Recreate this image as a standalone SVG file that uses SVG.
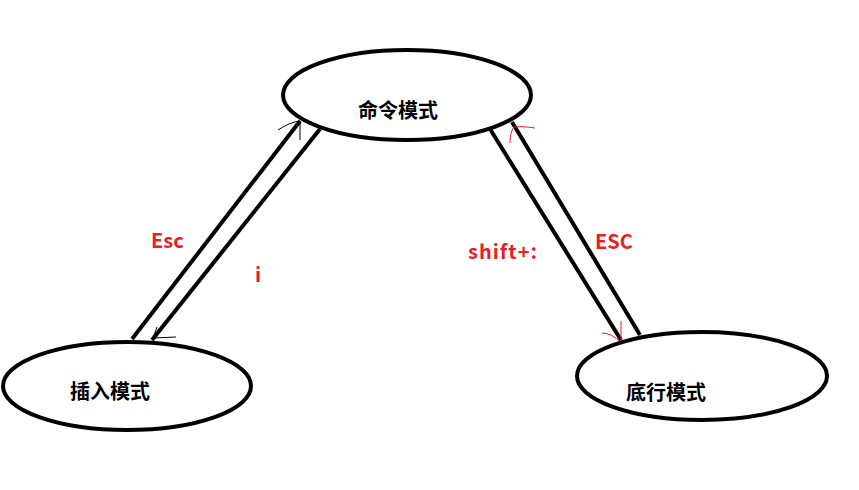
<svg xmlns="http://www.w3.org/2000/svg" width="859" height="490" viewBox="0 0 859 490">
<style>
.node ellipse{fill:#fff;stroke:#000;stroke-width:4}
.node text{font-family:"Noto Sans CJK SC","Microsoft YaHei",sans-serif;font-weight:bold;font-size:20px;fill:#000;text-anchor:middle}
.edge{stroke:#000;stroke-width:4;fill:none}
.ah{stroke:#000;stroke-width:1;fill:none}
.ahr{stroke:#ed1c24;stroke-width:1;fill:none}
.lbl{font-family:"Noto Sans CJK SC","Microsoft YaHei",sans-serif;font-weight:bold;font-size:20px;fill:#ed1c24}
</style>
<rect width="859" height="490" fill="#fff"/>
<g id="connectors">
<line class="edge" x1="132" y1="339" x2="300" y2="121"/>
<line class="edge" x1="152" y1="340" x2="320" y2="129"/>
<line class="edge" x1="490" y1="129" x2="621" y2="340"/>
<line class="edge" x1="512" y1="122" x2="640" y2="335"/>
<path class="ah" d="M278,130 Q290,122 300,121 M300,121 L300,140"/>
<path class="ah" d="M157,327 L153,338 L176,337"/>
<path class="ahr" d="M510,143 Q510,132 514,127 Q522,126 535,128"/>
<path class="ahr" d="M621,321 L621,343 M602,333 Q612,333 621,343"/>
<text class="lbl" x="151" y="248">Esc</text>
<text class="lbl" x="255" y="282">i</text>
<text class="lbl" x="468" y="259" letter-spacing="1">shift+:</text>
<text class="lbl" x="595" y="249">ESC</text>
</g>
<g id="node-command" class="node">
<ellipse cx="407" cy="95" rx="124" ry="45"/>
<text x="398" y="118">命令模式</text>
</g>
<g id="node-insert" class="node">
<ellipse cx="127" cy="386" rx="124" ry="44"/>
<text x="110" y="399">插入模式</text>
</g>
<g id="node-lastline" class="node">
<ellipse cx="702" cy="376" rx="125" ry="44"/>
<text x="666" y="400">底行模式</text>
</g>
</svg>
